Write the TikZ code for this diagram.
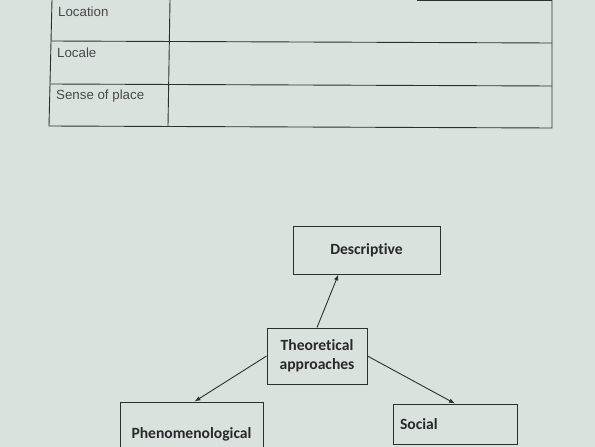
\documentclass[tikz,border=0pt]{standalone}
\usepackage{fontspec}
\setmainfont{Liberation Sans}
\newfontfamily\carl[Ligatures=NoCommon]{Carlito}
\usetikzlibrary{arrows.meta,calc}
\definecolor{bgc}{RGB}{218,226,222}
\definecolor{ln}{RGB}{45,48,48}
\definecolor{tx}{RGB}{40,40,42}
\tikzset{
  cell/.style={anchor=west,inner sep=0pt,text=tx!85,font=\fontsize{13.3}{15}\selectfont},
  tline/.style={draw=ln,line width=0.9pt},
  box/.style={draw=ln,line width=0.9pt,inner sep=4pt,text=tx,font=\carl\bfseries\fontsize{15.6}{19}\selectfont,align=center},
  arr/.style={draw=ln,line width=0.9pt,-{Latex[length=6pt,width=4.5pt]}}
}
\begin{document}
\begin{tikzpicture}[x=1pt,y=-1pt]
\useasboundingbox (0,0) rectangle (595,447);
\clip (0,0) rectangle (595,447);
\fill[bgc] (0,0) rectangle (595,447);
% table
\draw[tline] (52,0) -- (49,126) -- (552,128) -- (552,0);
\draw[tline] (170,0) -- (168,126);
\draw[tline] (51,41) -- (552,43);
\draw[tline] (50,84) -- (552,86);
\draw[tline] (417,0.5) -- (552,0.5);
\node[cell] (c1) at (58,12) {Location};
\node[cell] (c2) at (57,53) {Locale};
\node[cell] (c3) at (56,96) {Sense of place};
% diagram
\node[box,minimum width=147,minimum height=48] (desc) at (366.5,250) {Descriptive};
\node[box,minimum width=100,minimum height=56] (th) at (317,356) {Theoretical\\approaches};
\node[box,minimum width=143,minimum height=64] (phen) at (191.5,434) {Phenomenological};
\node[box,minimum height=40,text width=110pt,inner xsep=7pt,align=left] (soc) at (455,424) {Social};
\draw[arr] (th.north) -- ($(desc.south west)!0.31!(desc.south east)$);
\draw[arr] (th.west) -- ($(phen.north)+(3,0)$);
\draw[arr] (th.east) -- (soc.north);
\end{tikzpicture}
\end{document}
